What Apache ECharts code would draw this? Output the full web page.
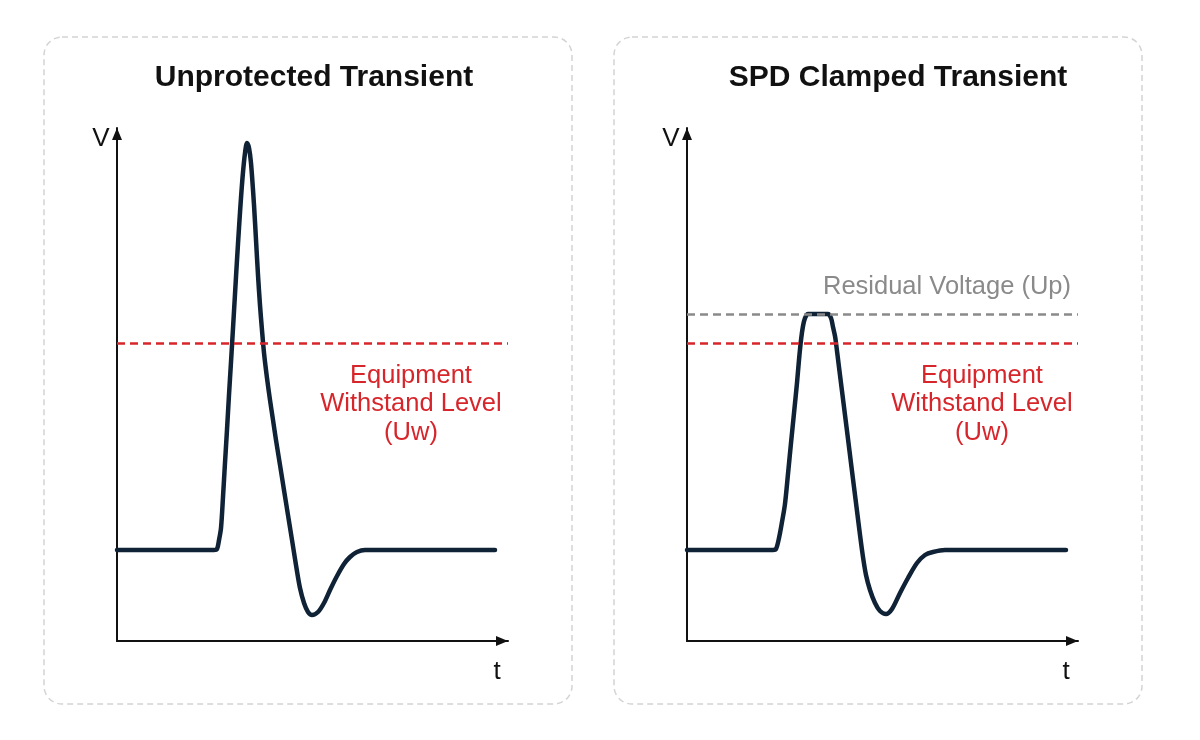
<!DOCTYPE html>
<html>
<head>
<meta charset="utf-8">
<script src="https://cdn.jsdelivr.net/npm/echarts@6/dist/echarts.min.js"></script>
<style>
  html, body { margin: 0; padding: 0; background: #fff; }
  #main { width: 1200px; height: 740px; }
</style>
</head>
<body>
<div id="main"></div>
<script>
	// 数据 (t, V), 任意单位 0~100
	var panelTitles = ['Unprotected Transient', 'SPD Clamped Transient'];
	var unprotectedT = [0, 18.67, 24.81, 25.58, 26.09, 26.60, 27.11, 27.62, 28.13, 28.64, 29.16, 29.67, 30.18, 30.69, 31.20, 31.71, 32.23, 32.74, 33.25,
		33.76, 34.27, 35.04, 35.55, 36.06, 36.57, 37.08, 37.60, 38.36, 39.13, 39.90, 40.66, 41.69, 42.71, 43.73, 44.76, 45.78, 46.80, 47.83, 48.85, 49.87,
		51.41, 52.94, 54.48, 56.27, 58.06, 59.59, 61.38, 63.43, 72.38, 96.68];
	var unprotectedV = [17.74, 17.74, 17.74, 17.93, 19.69, 22.03, 28.07, 34.70, 41.13, 47.95, 54.39, 61.01, 67.64, 74.27, 80.51, 86.35, 91.42, 95.13, 97.08,
		96.10, 93.18, 84.99, 78.17, 71.35, 65.50, 60.62, 56.14, 51.27, 46.98, 43.08, 39.18, 34.31, 29.43, 24.56, 19.69, 14.81, 10.33, 7.41, 5.65, 5.07,
		5.65, 7.41, 9.94, 12.67, 15.01, 16.37, 17.35, 17.74, 17.74, 17.74];
	var clampedT = [0, 18.67, 22.00, 22.76, 23.53, 24.30, 25.06, 25.83, 26.60, 27.37, 28.13, 28.64, 29.16, 29.67, 30.18, 30.95, 33.50, 36.06,
		36.83, 37.34, 37.85, 38.11, 38.87, 39.64, 40.41, 41.18, 41.94, 42.71, 43.48, 44.25, 45.01, 45.78, 46.80, 48.08, 49.36, 50.90,
		52.43, 54.48, 56.52, 58.82, 60.87, 62.92, 65.98, 96.93];
	var clampedV = [17.74, 17.74, 17.74, 17.93, 20.08, 23.20, 26.71, 32.55, 38.60, 44.44, 50.29, 54.78, 58.67, 61.40, 62.96, 63.74, 63.74, 63.74,
		62.96, 61.21, 59.45, 58.09, 53.41, 48.73, 44.05, 39.38, 34.70, 30.02, 25.34, 20.66, 16.37, 12.87, 9.94, 7.41, 5.85, 5.26,
		6.24, 9.36, 12.28, 15.20, 16.76, 17.35, 17.74, 17.74];
	var withstandLevel = 58.1;   // Uw
	var residualVoltage = 63.7;  // Up
	var withstandLabel = 'Equipment\nWithstand Level\n(Uw)';
	var residualLabel = 'Residual Voltage (Up)';

	function toPairs(ts, vs){
		var out = [];
		for (var i = 0; i < ts.length; i++) out.push([ts[i], vs[i]]);
		return out;
	}

	var FONT = '"Liberation Sans", Arial, sans-serif';

	function makeAxis(idx){
		return {
			type: 'value',
			gridIndex: idx,
			min: 0,
			max: 100,
			axisLine: {
				show: true,
				onZero: false,
				symbol: ['none', 'triangle'],
				symbolSize: [10, 12],
				symbolOffset: [0, -6],
				lineStyle: { color: '#111', width: 2 }
			},
			axisTick: { show: false },
			axisLabel: { show: false },
			splitLine: { show: false }
		};
	}

	function dashLine(value, color){
		return {
			silent: true,
			symbol: ['none', 'none'],
			label: { show: false },
			lineStyle: { color: color, width: 2.5, type: [8, 5] },
			data: [{ yAxis: value }]
		};
	}

	function panelBox(x){
		return {
			type: 'rect',
			shape: { x: x, y: 37, width: 528, height: 667, r: 18 },
			style: { fill: 'none', stroke: '#d4d4d4', lineWidth: 1.5, lineDash: [6, 4] },
			silent: true,
			z: -1
		};
	}

	function txt(x, y, text, size, color, weight, lh){
		return {
			type: 'text',
			x: x, y: y,
			style: {
				text: text,
				fill: color,
				font: (weight || 'normal') + ' ' + size + 'px ' + FONT,
				textAlign: 'center',
				textVerticalAlign: 'middle',
				lineHeight: lh || size
			},
			silent: true
		};
	}

	var myChart = echarts.init(document.getElementById('main'), null, { renderer: 'canvas' });
	var option = {
		backgroundColor: '#fff',
		animation: false,
		grid: [
			{ left: 117, top: 128, width: 391, height: 513 },
			{ left: 687, top: 128, width: 391, height: 513 }
		],
		xAxis: [makeAxis(0), makeAxis(1)],
		yAxis: [makeAxis(0), makeAxis(1)],
		series: [
			{
				name: 'Unprotected',
				type: 'line',
				xAxisIndex: 0, yAxisIndex: 0,
				data: toPairs(unprotectedT, unprotectedV),
				smooth: 0.3,
				showSymbol: false,
				lineStyle: { color: '#0f2236', width: 4.5, cap: 'round', join: 'round' },
				markLine: dashLine(withstandLevel, '#d7262b'),
				z: 3
			},
			{
				name: 'Clamped',
				type: 'line',
				xAxisIndex: 1, yAxisIndex: 1,
				data: toPairs(clampedT, clampedV),
				smooth: 0.3,
				showSymbol: false,
				lineStyle: { color: '#0f2236', width: 4.5, cap: 'round', join: 'round' },
				markLine: dashLine(withstandLevel, '#d7262b'),
				z: 3
			},
			{
				name: 'Residual',
				type: 'line',
				xAxisIndex: 1, yAxisIndex: 1,
				data: [],
				markLine: dashLine(residualVoltage, '#8a8a8a'),
				z: 5
			}
		],
		graphic: [
			panelBox(44),
			panelBox(614),
			txt(314, 78, panelTitles[0], 30, '#111', 'bold'),
			txt(898, 78, panelTitles[1], 30, '#111', 'bold'),
			txt(101, 139, 'V', 26, '#111'),
			txt(671, 139, 'V', 26, '#111'),
			txt(497, 672, 't', 26, '#111'),
			txt(1066, 672, 't', 26, '#111'),
			txt(411, 404, withstandLabel, 25.5, '#d7262b', 'normal', 28.5),
			txt(982, 404, withstandLabel, 25.5, '#d7262b', 'normal', 28.5),
			txt(947, 287, residualLabel, 25.5, '#8a8a8a')
		]
	};
	myChart.setOption(option);
</script>
</body>
</html>
